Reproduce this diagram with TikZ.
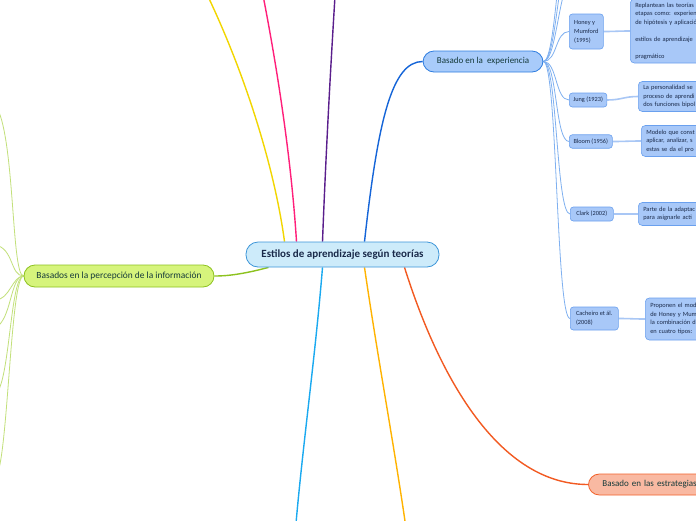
\documentclass[tikz,border=0pt]{standalone}
\usepackage{fontspec}
\setmainfont{Carlito}
\definecolor{cfill}{HTML}{CDEBFA}
\definecolor{cdraw}{HTML}{3C95D8}
\definecolor{ctext}{HTML}{1A2A4A}
\definecolor{efill}{HTML}{A8CBFA}
\definecolor{edraw}{HTML}{2E7DE0}
\definecolor{etext}{HTML}{153A3A}
\definecolor{lfill}{HTML}{D6F47C}
\definecolor{ldraw}{HTML}{8DC21F}
\definecolor{sfill}{HTML}{F9B9A2}
\definecolor{sdraw}{HTML}{F2622B}
\definecolor{kfill}{HTML}{A8C8F8}
\definecolor{kdraw}{HTML}{6AA0EE}
\definecolor{cyel}{HTML}{F2D600}
\definecolor{cpink}{HTML}{FF1F7A}
\definecolor{cpurp}{HTML}{5A1E8C}
\definecolor{cblue}{HTML}{1565D8}
\definecolor{ccyan}{HTML}{1AA9F0}
\definecolor{camber}{HTML}{FFB300}
\definecolor{corange}{HTML}{F25A22}
\definecolor{kline}{HTML}{7FB0F0}
\definecolor{kline2}{HTML}{A9C7F5}
\definecolor{lline}{HTML}{C2E07A}
\pgfdeclarelayer{bg}
\pgfdeclarelayer{paper}
\pgfsetlayers{paper,bg,main}
\begin{document}
\begin{tikzpicture}[x=1pt,y=-1pt,
  topic/.style={draw, line width=0.8pt, rounded corners=11pt, inner sep=0pt, font=\fontsize{9.4}{11}\selectfont},
  sub/.style={draw=kdraw, fill=kfill, line width=0.6pt, rounded corners=3pt, inner xsep=4pt, inner ysep=0pt, align=left, anchor=west, text=ctext, font=\fontsize{6.3}{9}\selectfont},
  desc/.style={draw=kdraw, fill=kfill, line width=0.6pt, rounded corners=4pt, inner xsep=5pt, inner ysep=0pt, align=left, anchor=west, text width=90pt, text=ctext, font=\fontsize{6.4}{8.5}\selectfont},
  branch/.style={line width=1.4pt},
  kid/.style={kline, line width=0.8pt},
  kid2/.style={kline2, line width=1.6pt},
  lkid/.style={lline, line width=0.8pt}]
\useasboundingbox (0,0) rectangle (696,520);
\clip (0,0) rectangle (696,520);
\begin{pgfonlayer}{paper}
\fill[white] (0,0) rectangle (696,520);
\end{pgfonlayer}

% main topics
\node[topic, fill=cfill, draw=cdraw, text=ctext, minimum width=193pt, minimum height=25pt, rounded corners=12pt, font=\fontsize{11}{13}\selectfont\bfseries] (c) at (342.5,254.5) {Estilos de aprendizaje según teorías};
\node[topic, fill=lfill, draw=ldraw, text=etext, minimum width=190pt, minimum height=22pt] (l) at (119,276) {Basados en la percepción de la información};
\node[topic, fill=efill, draw=edraw, text=etext, minimum width=120pt, minimum height=21pt, font=\fontsize{9}{11}\selectfont] (e) at (483,61.5) {Basado en la\ \ experiencia};
\node[topic, fill=sfill, draw=sdraw, text=etext, minimum height=21pt, anchor=west, inner xsep=14pt, text width=130pt, align=left, font=\fontsize{9}{11}\selectfont] (s) at (588,484.5) {Basado en las estrategias};

% sub topics
\node[sub, minimum width=34pt, minimum height=35pt] (h) at (569,31.5) {Honey y\\Mumford\\(1995)};
\node[sub, minimum width=37pt, minimum height=14pt] (j) at (569,100) {Jung (1923)};
\node[sub, minimum width=43pt, minimum height=13.5pt] (b) at (569,141.5) {Bloom (1956)};
\node[sub, minimum width=43pt, minimum height=14pt] (k) at (570,214) {Clark (2002)};
\node[sub, minimum width=48pt, minimum height=23pt] (ca) at (570,318.5) {Cacheiro et ál.\\(2008)};

% descriptions (cut by the picture's edge, as in the reference)
\node[desc, minimum height=64pt] (hd) at (630,31) {Replantean las teorías\\etapas como: experien\\de hipótesis y aplicació\\[8.5pt]estilos de aprendizaje\\[8.5pt]pragmático};
\node[desc, minimum height=30pt] (jd) at (638,96.5) {La personalidad se\\proceso de aprendi\\dos funciones bipol};
\node[desc, minimum height=31pt] (bd) at (641,141) {Modelo que const\\aplicar, analizar, s\\estas se da el pro};
\node[desc, minimum height=23pt] (kd) at (638,214) {Parte de la adaptac\\para asignarle acti};
\node[desc, minimum height=42pt] (cad) at (645,319) {Proponen el mod\\de Honey y Mum\\la combinación d\\en cuatro tipos:};

% off-picture ends
\coordinate (cyE) at (200,-20);
\coordinate (cpE) at (260,-20);
\coordinate (cuE) at (336,-20);
\coordinate (ccE) at (295,535);
\coordinate (caE) at (407,535);
\coordinate (eu1) at (575,-25);
\coordinate (eu2) at (575,-60);
\coordinate (eu3) at (575,-100);
\coordinate (lu1) at (-10,100);
\coordinate (lu2) at (-5,245);
\coordinate (lu3) at (-5,328);
\coordinate (lu4) at (-5,395);
\coordinate (lu5) at (-5,478);
\coordinate (lu6) at (-5,300);

\begin{pgfonlayer}{bg}
\draw[branch, cyel] ([xshift=-58pt]c.north) .. controls (275,170) and (245,70) .. (cyE);
\draw[branch, cpink] ([xshift=-46pt]c.north) .. controls (292,170) and (280,80) .. (cpE);
\draw[branch, cpurp] ([xshift=-20pt]c.north) .. controls (326,150) and (331,60) .. (cuE);
\draw[branch, cblue] ([xshift=22pt]c.north) .. controls (378,120) and (392,61.5) .. (e.west);
\draw[branch, ldraw] ([xshift=-74pt]c.south) .. controls (240,275) and (225,276) .. (l.east);
\draw[branch, ccyan] ([xshift=-20pt]c.south) .. controls (315,360) and (302,450) .. (ccE);
\draw[branch, camber] ([xshift=22pt]c.south) .. controls (378,360) and (395,450) .. (caE);
\draw[branch, corange] ([xshift=62pt]c.south) .. controls (440,380) and (500,484.5) .. (s.west);

\foreach \t in {h,j,b,k,ca}
  \draw[kid] (e.east) .. controls ([xshift=14pt]e.east) and ([xshift=-14pt]\t.west) .. (\t.west);
\foreach \t in {eu1,eu2,eu3}
  \draw[kid] (e.east) .. controls ([xshift=14pt]e.east) and ([xshift=-16pt]\t) .. (\t);

\draw[kid2] (h.east) .. controls ([xshift=12pt]h.east) and ([xshift=-12pt]hd.west) .. (hd.west);
\draw[kid2] (j.east) .. controls ([xshift=14pt]j.east) and ([xshift=-14pt]jd.west) .. (jd.west);
\draw[kid2] (b.east) .. controls ([xshift=12pt]b.east) and ([xshift=-12pt]bd.west) .. (bd.west);
\draw[kid2] (k.east) .. controls ([xshift=12pt]k.east) and ([xshift=-12pt]kd.west) .. (kd.west);
\draw[kid2] (ca.east) .. controls ([xshift=12pt]ca.east) and ([xshift=-12pt]cad.west) .. (cad.west);

\draw[lkid] (l.west) .. controls (10,276) and (16,110) .. (lu1);
\draw[lkid] (l.west) .. controls (10,276) and (14,248) .. (lu2);
\draw[lkid] (l.west) .. controls (10,276) and (12,320) .. (lu3);
\draw[lkid] (l.west) .. controls (10,276) and (10,385) .. (lu4);
\draw[lkid] (l.west) .. controls (10,276) and (8,470) .. (lu5);
\draw[lkid] (l.west) .. controls (12,276) and (10,300) .. (lu6);
\end{pgfonlayer}
\end{tikzpicture}
\end{document}
